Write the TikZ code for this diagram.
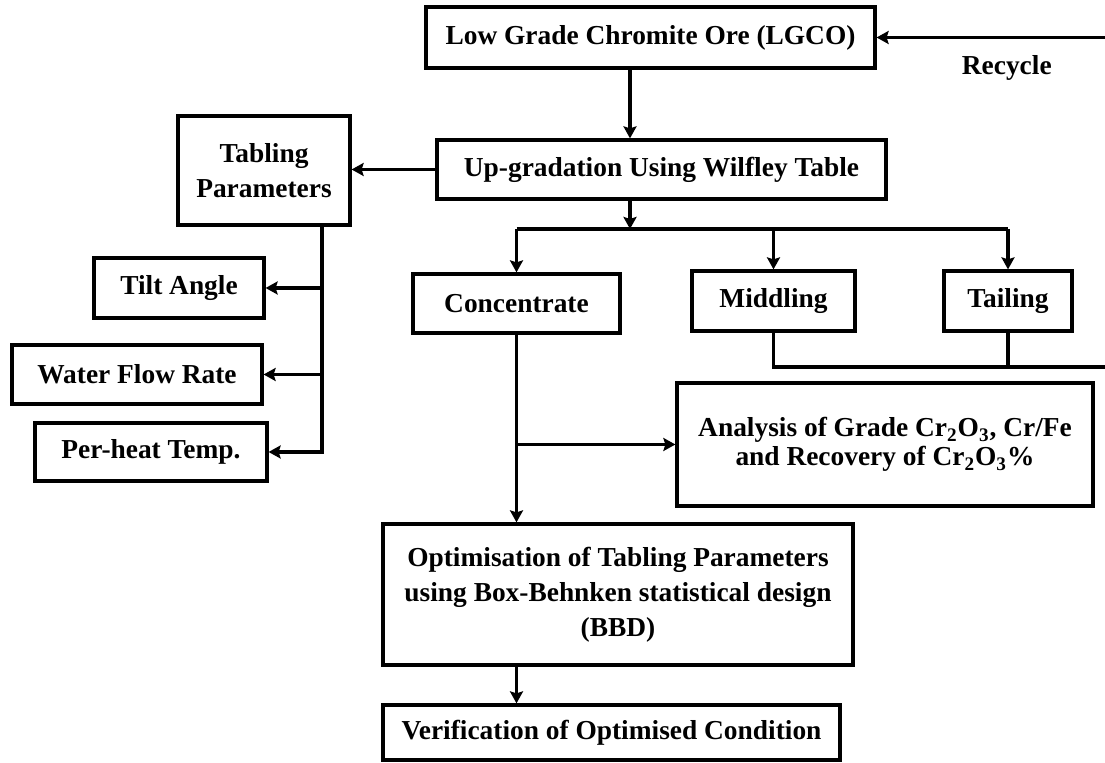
\documentclass[tikz,border=0pt]{standalone}
\usepackage{fontspec}
\setmainfont{Liberation Serif}
\usetikzlibrary{arrows.meta, positioning, calc}
\tikzset{
    box_flow/.style={
        rectangle, draw=black, line width=1.6pt, fill=white,
        inner sep=2pt, align=center,
        font=\fontsize{13.7}{17.5}\selectfont\bfseries
    },
    pipe_arrow/.style={
        -{Stealth[length=6pt,width=6.5pt,inset=1pt]}, line width=1.6pt, draw=black
    },
    pipe_line/.style={
        line width=1.6pt, draw=black
    },
    lbl/.style={
        font=\fontsize{13.7}{16}\selectfont\bfseries, inner sep=0pt
    }
}

\begin{document}
\begin{tikzpicture}[x=0.5pt, y=-0.5pt]
    \useasboundingbox (0,0) rectangle (1105,763);

    % Row 1: ore feed and tabling
    \node[box_flow, minimum width=224.5pt, minimum height=30.5pt] (lgco) at (650.5, 37.5) {Low Grade Chromite Ore (LGCO)};
    \node[box_flow, minimum width=224.5pt, minimum height=29.5pt] (upgrad) at (661.5, 169.5) {Up-gradation Using Wilfley Table};

    % Left column: tabling parameters
    \node[box_flow, minimum width=86pt, minimum height=54.5pt] (tab_par) at (264, 170.5) {Tabling\\Parameters};
    \node[box_flow, minimum width=85pt, minimum height=30pt] (tilt) at (179, 288) {Tilt Angle};
    \node[box_flow, minimum width=125pt, minimum height=29.5pt] (water) at (137, 374.5) {Water Flow Rate};
    \node[box_flow, minimum width=116pt, minimum height=29pt] (preheat) at (151, 452) {Per-heat Temp.};

    % Row 2: table products
    \node[box_flow, minimum width=103.5pt, minimum height=29.5pt] (conc) at (516.5, 303.5) {Concentrate};
    \node[box_flow, minimum width=81.5pt, minimum height=30pt] (midd) at (773.5, 301) {Middling};
    \node[box_flow, minimum width=64pt, minimum height=30pt] (tail) at (1008, 301) {Tailing};

    % Analysis, optimisation and verification
    \node[box_flow, minimum width=208pt, minimum height=61.5pt, font=\fontsize{13.7}{14.5}\selectfont\bfseries] (analysis) at (885, 444.5) {Analysis of Grade Cr\textsubscript{2}O\textsubscript{3}, Cr/Fe\\and Recovery of Cr\textsubscript{2}O\textsubscript{3}\%};
    \node[box_flow, minimum width=235pt, minimum height=70.5pt] (optim) at (618, 594.5) {Optimisation of Tabling Parameters\\using Box-Behnken statistical design\\(BBD)};
    \node[box_flow, minimum width=228.5pt, minimum height=27.5pt] (verif) at (611.5, 732.5) {Verification of Optimised Condition};

    % Helper coordinates
    \coordinate (split) at (630, 229);
    \coordinate (tab_bus) at (322, 0);
    \coordinate (rec_in) at (1105, 37.5);
    \coordinate (rec_out) at (1105, 367);

    % Recycle stream back to the feed
    \draw[pipe_arrow] (rec_in) -- node[lbl, below=8pt, pos=0.43] {Recycle} (lgco.east);

    % Feed -> Wilfley table -> split
    \draw[pipe_arrow] (lgco.south -| split) -- (upgrad.north -| split);
    \draw[pipe_arrow] (upgrad.south -| split) -- (split);
    \draw[pipe_line] (conc.north |- split) -- (tail.north |- split);
    \draw[pipe_arrow] (conc.north |- split) -- (conc.north);
    \draw[pipe_arrow] (midd.north |- split) -- (midd.north);
    \draw[pipe_arrow] (tail.north |- split) -- (tail.north);

    % Wilfley table -> tabling parameters
    \draw[pipe_arrow] (upgrad.west) -- (tab_par.east |- upgrad.west);
    \draw[pipe_arrow] (tab_par.south -| tab_bus) |- (preheat.east);
    \draw[pipe_arrow] (tilt.east -| tab_bus) -- (tilt.east);
    \draw[pipe_arrow] (water.east -| tab_bus) -- (water.east);

    % Middling and tailing -> recycle
    \draw[pipe_line] (midd.south) |- (rec_out);
    \draw[pipe_line] (tail.south) -- (tail.south |- rec_out);

    % Concentrate -> analysis and optimisation
    \draw[pipe_arrow] (conc.south) -- (conc.south |- optim.north);
    \draw[pipe_arrow] (conc.south |- analysis.west) -- (analysis.west);
    \draw[pipe_arrow] (optim.south -| conc) -- (verif.north -| conc);
\end{tikzpicture}
\end{document}
